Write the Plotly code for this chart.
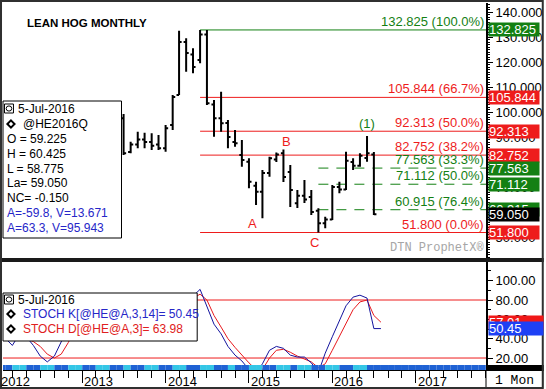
import pandas as pd
import plotly.graph_objects as go

# ---------------- data ----------------
bar_months = pd.date_range("2013-07-01", "2016-07-01", freq="MS")
opens = [97.5, 84.0, 87.0, 89.0, 88.0, 87.0, 85.5, 94.8, 106.8, 128.0, 123.0, 120.8, 131.0,
         103.0, 97.5, 95.6, 88.0, 82.8, 80.1, 70.5, 68.1, 75.6, 81.0, 83.5, 76.0, 63.5,
         66.5, 66.0, 60.5, 55.5, 57.0, 70.0, 69.0, 80.0, 78.5, 81.6, 83.0]
highs = [99.2, 88.1, 92.1, 91.7, 91.5, 90.8, 94.8, 106.8, 132.5, 129.5, 125.5, 132.825, 132.825,
         104.8, 108.1, 96.8, 92.8, 88.8, 81.5, 72.1, 76.8, 82.1, 83.8, 85.0, 78.8, 68.8,
         72.8, 68.8, 61.5, 58.1, 70.8, 72.1, 84.1, 81.5, 83.5, 90.425, 84.0]
lows = [82.8, 83.5, 85.5, 85.5, 84.8, 84.8, 84.1, 92.8, 106.8, 116.1, 115.5, 119.5, 102.8,
        90.1, 92.1, 85.5, 86.1, 78.1, 69.5, 62.8, 57.5, 74.1, 80.0, 72.0, 62.0, 61.6,
        63.6, 58.8, 51.8, 53.5, 56.8, 67.5, 68.8, 76.8, 78.1, 80.1, 58.775]
closes = [83.5, 87.0, 89.0, 88.0, 86.5, 85.5, 93.5, 106.0, 128.0, 123.6, 118.0, 131.0, 103.5,
          97.5, 95.5, 90.0, 87.5, 80.8, 72.1, 68.1, 75.6, 81.5, 83.0, 74.0, 68.8, 66.5,
          65.0, 60.0, 55.5, 57.0, 70.0, 69.0, 80.5, 78.5, 82.5, 83.5, 59.05]

stoch_months = pd.date_range("2012-01-01", "2016-08-01", freq="MS")
stoch_k = [45, 40, 33, 45, 42, 33, 22, 16, 22, 36, 52, 62,
           70, 68, 60, 55, 65, 80, 84, 70, 55, 45, 42, 40,
           45, 60, 80, 82, 84, 91, 74, 55, 45, 32, 23, 17,
           8, 4, 14, 28, 32, 30, 23, 21, 21, 15, 5, 25,
           42, 58, 74, 83, 85, 82, 50.45, 50.45]
stoch_d = [46, 44, 40, 39, 40, 37, 32, 24, 20, 24, 36, 50,
           61, 67, 66, 61, 60, 67, 76, 78, 70, 57, 47, 42,
           42, 48, 62, 74, 82, 86, 80, 64, 52, 40, 31, 23,
           15, 8, 8, 20, 28, 29, 26, 22, 19, 16, 10, 14,
           28, 42, 56, 70, 78, 80, 63.98, 57.01]

strip_months = pd.date_range("2012-01-01", "2017-12-01", freq="MS")
strip_state = [0, 0, 1, 1, 0, 0, 1, 1, 0, 0, 1, 1,
               0, 0, 1, 1, 0, 0, 1, 0, 0, 1, 1, 0,
               0, 1, 1, 0, 0, 1, 1, 0, 0, 1, 0, 0,
               1, 1, 0, 0, 1, 1, 0, 1, 1, 0, 0, 1,
               1, 0, 0, 1, 1, 0, 0, 0, 0, 0, 0, 0,
               0, 0, 0, 0, 0, 0, 0, 0, 0, 0, 0]

fib_high_date = "2014-06-01"
fib_low_date = "2015-11-01"
fib1_levels = [132.825, 105.844, 92.313, 82.752, 51.800]
fib1_pcts = ["100.0%", "66.7%", "50.0%", "38.2%", "0.0%"]
fib2_levels = [77.563, 71.112, 60.915]
fib2_pcts = ["33.3%", "50.0%", "76.4%"]
last_close = 59.050
stoch_bands = [80, 20]
stoch_last = [("57.01", 57.01), ("50.45", 50.45)]

wave_labels = [("A", "2015-01-16", 55.4), ("B", "2015-06-16", 88.4),
               ("C", "2015-10-16", 48.0), ("(1)", "2016-06-01", 95.6)]
years = ["2012", "2013", "2014", "2015", "2016", "2017"]

info_lines = ["O = 59.225", "H = 60.425", "L = 58.775", "La= 59.050", "NC= -0.150"]
info_blue = ["A=-59.8, V=13.671", "A=63.3, V=95.943"]

# ---------------- style ----------------
FONT = "Arial, 'Liberation Sans', sans-serif"
MONO = "'Liberation Mono', 'DejaVu Sans Mono', monospace"
RED = "#ee1c1c"
GREEN = "#138013"
BLUE_T = "#2626c8"
X_RANGE = ["2012-01-20", "2017-11-04"]
x0_ts = pd.Timestamp(X_RANGE[0])
x1_ts = pd.Timestamp(X_RANGE[1])


def xp(px):
    return (px - 3) / 485.0


def yp(py):
    return (370 - py) / 367.0


def date_paper(d):
    return (pd.Timestamp(d) - x0_ts) / (x1_ts - x0_ts)


fig = go.Figure()
fig.add_trace(go.Ohlc(
    x=bar_months, open=opens, high=highs, low=lows, close=closes,
    increasing=dict(line=dict(color="black", width=2)),
    decreasing=dict(line=dict(color="black", width=2)),
    tickwidth=0.4, xaxis="x", yaxis="y", hoverinfo="skip", showlegend=False))
fig.add_trace(go.Scatter(x=stoch_months, y=stoch_d, mode="lines", yaxis="y2",
                         line=dict(color="#e8191e", width=1), hoverinfo="skip"))
fig.add_trace(go.Scatter(x=stoch_months, y=stoch_k, mode="lines", yaxis="y2",
                         line=dict(color="#14149e", width=1), hoverinfo="skip"))

shapes = []
ann = []

# fib retracement lines
for lvl, pct in zip(fib1_levels, fib1_pcts):
    col = GREEN if pct == "100.0%" else RED
    shapes.append(dict(type="line", xref="x", yref="y", x0=fib_high_date, x1=X_RANGE[1],
                       y0=lvl, y1=lvl, line=dict(color=col, width=1), layer="below"))
    ann.append(dict(xref="paper", yref="y", x=1, y=lvl, xanchor="right", yanchor="bottom",
                    xshift=-1, text=f"{lvl:.3f} ({pct})", showarrow=False, borderpad=0,
                    font=dict(family=FONT, size=13, color=col)))
for lvl, pct in zip(fib2_levels, fib2_pcts):
    shapes.append(dict(type="line", xref="x", yref="y", x0=fib_low_date, x1=X_RANGE[1],
                       y0=lvl, y1=lvl, line=dict(color=GREEN, width=1, dash="10px,8px"),
                       layer="below"))
    ann.append(dict(xref="paper", yref="y", x=1, y=lvl, xanchor="right", yanchor="bottom",
                    xshift=-1, text=f"{lvl:.3f} ({pct})", showarrow=False, borderpad=0,
                    font=dict(family=FONT, size=13, color=GREEN)))

# stochastic bands
for b in stoch_bands:
    shapes.append(dict(type="line", xref="paper", yref="y2", x0=0, x1=1, y0=b, y1=b,
                       line=dict(color=RED, width=1), layer="below"))

# indicator strip
for i, st in enumerate(strip_state):
    shapes.append(dict(type="rect", xref="x", yref="paper",
                       x0=strip_months[i], x1=strip_months[i + 1],
                       y0=0, y1=yp(365), line=dict(width=0),
                       fillcolor="#34c6e6" if st else "#1f62d4", layer="above"))

# info boxes
shapes.append(dict(type="rect", xref="paper", yref="paper", x0=xp(3), x1=xp(122),
                   y0=yp(238), y1=yp(101), fillcolor="white",
                   line=dict(color="black", width=1), layer="above"))
shapes.append(dict(type="rect", xref="paper", yref="paper", x0=xp(3), x1=xp(198),
                   y0=yp(341), y1=yp(293), fillcolor="white",
                   line=dict(color="black", width=1), layer="above"))


def icon(cx, cy):
    shapes.append(dict(type="rect", xref="paper", yref="paper", x0=xp(cx - 4.5), x1=xp(cx + 4.5),
                       y0=yp(cy + 4.5), y1=yp(cy - 4.5), line=dict(color="black", width=1),
                       fillcolor="white", layer="above"))
    shapes.append(dict(type="circle", xref="paper", yref="paper", x0=xp(cx - 2.8), x1=xp(cx + 2.8),
                       y0=yp(cy + 2.6), y1=yp(cy - 2.6), line=dict(color="black", width=1),
                       layer="above"))


def diamond(cx, cy, r=3.6):
    path = (f"M {xp(cx)},{yp(cy - r)} L {xp(cx + r)},{yp(cy)} L {xp(cx)},{yp(cy + r)} "
            f"L {xp(cx - r)},{yp(cy)} Z")
    shapes.append(dict(type="path", xref="paper", yref="paper", path=path,
                       line=dict(color="black", width=2), fillcolor="white", layer="above"))


def txt(px, py, s, color="black", size=12, family=FONT, xanchor="left"):
    ann.append(dict(xref="paper", yref="paper", x=xp(px), y=yp(py), xanchor=xanchor,
                    yanchor="middle", text=s, showarrow=False, borderpad=0,
                    font=dict(family=family, size=size, color=color)))


icon(9, 108.5)
txt(17, 109, "5-Jul-2016")
diamond(11, 124)
txt(22, 124, "@HE2016Q")
for i, s in enumerate(info_lines):
    txt(6, 139 + i * 14.8, s)
for i, s in enumerate(info_blue):
    txt(6, 213 + i * 14.8, s, color=BLUE_T)

icon(9, 299.5)
txt(17, 300, "5-Jul-2016")
diamond(11, 314)
txt(22, 314, f"STOCH K[@HE@A,3,14]= {stoch_k[-2]:.2f}", color=BLUE_T)
diamond(11, 329)
txt(22, 329, f"STOCH D[@HE@A,3]= {stoch_d[-2]:.2f}", color="#e02020")

# title, watermark
txt(26, 23, "<b>LEAN HOG MONTHLY</b>", size=11.5)
txt(487, 248, "DTN ProphetX®", color="#a6a6a6", size=12, family=MONO, xanchor="right")

# wave labels
for lab, d, v in wave_labels:
    ann.append(dict(xref="x", yref="y", x=d, y=v, text=lab, showarrow=False,
                    font=dict(family=FONT, size=13, color=GREEN if lab == "(1)" else RED)))

# right-axis value boxes
box_items = [(fib1_levels[0], GREEN), (fib1_levels[1], RED), (fib1_levels[2], RED),
             (fib1_levels[3], RED), (fib2_levels[0], GREEN), (fib2_levels[1], GREEN),
             (fib2_levels[2], GREEN), (last_close, "black"), (fib1_levels[4], RED)]
for v, c in box_items:
    ann.append(dict(xref="paper", yref="y", x=1, y=v, xanchor="left", yanchor="middle",
                    xshift=2, text=f"{v:.3f}", showarrow=False, bgcolor=c, width=50,
                    height=13, borderpad=0, align="left",
                    font=dict(family=FONT, size=13, color="white")))
for (s, v), c in zip(stoch_last, ["#f01818", "#1e40f5"]):
    ann.append(dict(xref="paper", yref="y2", x=1, y=v, xanchor="left", yanchor="middle",
                    xshift=2, text=s, showarrow=False, bgcolor=c, width=54,
                    height=13, borderpad=0, align="left",
                    font=dict(family=FONT, size=13, color="white")))

# year labels
for y in years:
    ann.append(dict(xref="paper", yref="paper", x=date_paper(f"{y}-01-01"), y=yp(381.5),
                    xanchor="left", yanchor="middle", xshift=1, text=y, showarrow=False,
                    borderpad=0, font=dict(family=FONT, size=13, color="black")))

# frame pieces
shapes.append(dict(type="rect", xref="paper", yref="paper", x0=xp(0), x1=xp(546),
                   y0=yp(262), y1=yp(258), fillcolor="#1a1a1a", line=dict(width=0),
                   layer="above"))
shapes.append(dict(type="rect", xref="paper", yref="paper", x0=xp(488), x1=xp(546),
                   y0=yp(371), y1=yp(365), fillcolor="black", line=dict(width=0),
                   layer="above"))
shapes.append(dict(type="rect", xref="paper", yref="paper", x0=xp(488), x1=xp(545),
                   y0=yp(388), y1=yp(370), line=dict(color="black", width=1),
                   layer="above"))
shapes.append(dict(type="rect", xref="paper", yref="paper", x0=xp(1), x1=xp(545),
                   y0=yp(388), y1=yp(1), line=dict(color="#303030", width=2),
                   layer="above"))
txt(517, 380, "1 Mon", size=13, family=MONO, xanchor="center")

axis_font = dict(family=FONT, size=13, color="black")
fig.update_layout(
    width=546, height=389, autosize=False,
    margin=dict(l=3, r=58, t=3, b=19, pad=0),
    paper_bgcolor="white", plot_bgcolor="white", showlegend=False,
    font=dict(family=FONT, size=13, color="black"),
    xaxis=dict(type="date", range=X_RANGE, anchor="y2", domain=[0, 1],
               showgrid=False, zeroline=False, showline=True, linecolor="black", linewidth=1,
               ticks="outside", ticklen=12, tickcolor="black", tickwidth=1,
               dtick="M12", tick0="2012-01-01", showticklabels=False,
               minor=dict(dtick="M2", tick0="2012-01-01", ticks="outside", ticklen=7,
                          tickcolor="black", showgrid=False),
               rangeslider=dict(visible=False), fixedrange=True),
    yaxis=dict(domain=[yp(258), 1], range=[41.6, 143.6], side="right", anchor="x",
               showgrid=False, zeroline=False, showline=True, linecolor="black", linewidth=2,
               ticks="outside", ticklen=5, tickcolor="black", dtick=10, tick0=0,
               tickformat=".3f", tickfont=axis_font,
               minor=dict(dtick=1, ticks="outside", ticklen=2, tickcolor="black",
                          showgrid=False),
               fixedrange=True),
    yaxis2=dict(domain=[0, yp(262)], range=[7.61, 119.3], side="right", anchor="x",
                showgrid=False, zeroline=False, showline=True, linecolor="black", linewidth=2,
                ticks="outside", ticklen=5, tickcolor="black", dtick=20, tick0=0,
                tickformat=".2f", tickfont=axis_font,
                minor=dict(dtick=10, ticks="outside", ticklen=3, tickcolor="black",
                           showgrid=False),
                fixedrange=True),
    shapes=shapes, annotations=ann,
)

fig.write_html("out.html", config=dict(displayModeBar=False),
               post_script="document.body.style.margin='0';document.body.style.overflow='hidden';")
